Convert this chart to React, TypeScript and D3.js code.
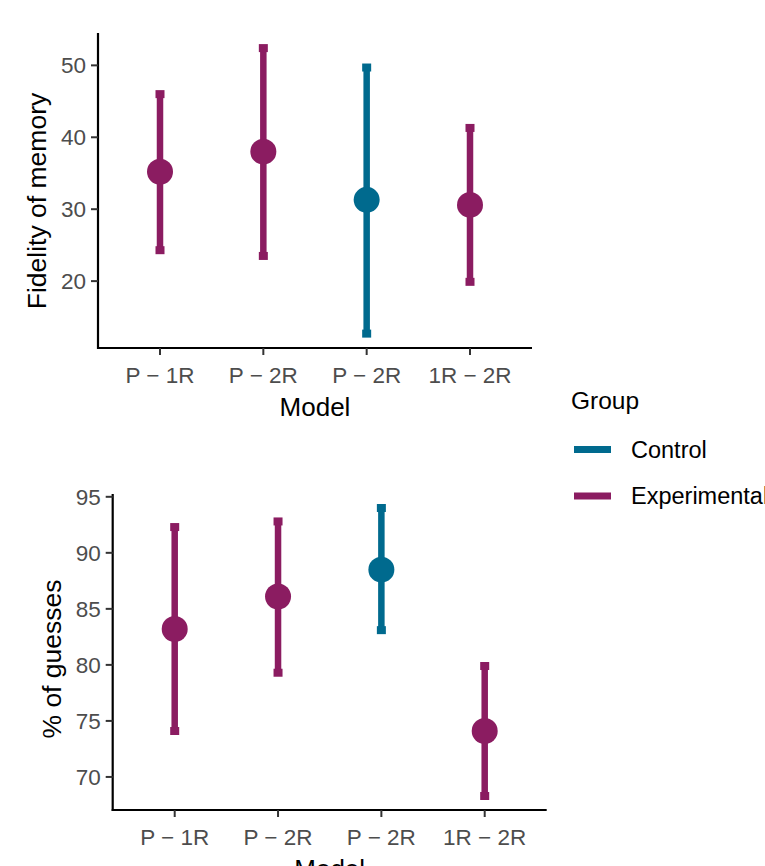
import React from "react";
import * as d3 from "d3";

const categories = ["P − 1R", "P − 2R", "P − 2R", "1R − 2R"];
const groups = ["Experimental", "Experimental", "Control", "Experimental"];
const fidelityMean = [35.2, 38.0, 31.3, 30.6];
const fidelityLow = [24.3, 23.5, 12.7, 19.9];
const fidelityHigh = [46.0, 52.4, 49.7, 41.3];
const guessMean = [83.2, 86.1, 88.5, 74.1];
const guessLow = [74.1, 79.3, 83.1, 68.3];
const guessHigh = [92.3, 92.8, 94.0, 79.9];
const fidelityTicks = [20, 30, 40, 50];
const guessTicks = [70, 75, 80, 85, 90, 95];
const legendGroups = ["Control", "Experimental"];

const colors: Record<string, string> = { Control: "#006A8E", Experimental: "#8B1C61" };
const FONT = "'Liberation Sans', Arial, sans-serif";

type PanelProps = {
  x0: number; x1: number; yTop: number; yBot: number;
  domain: [number, number]; ticks: number[];
  mean: number[]; low: number[]; high: number[];
  yTitle: string; yTitleX: number; yTitleY: number;
};

function Panel(p: PanelProps) {
  const idx = categories.map((_, i) => String(i));
  const x = d3.scalePoint<string>().domain(idx).range([p.x0, p.x1]).padding(0.6);
  const y = d3.scaleLinear().domain(p.domain).range([p.yBot, p.yTop]);
  return (
    <g>
      {idx.map((k, i) => {
        const c = colors[groups[i]];
        const cx = x(k)!;
        return (
          <g key={k}>
            <line x1={cx} x2={cx} y1={y(p.low[i])} y2={y(p.high[i])} stroke={c} strokeWidth={6.5} />
            <rect x={cx - 4.5} y={y(p.high[i]) - 4} width={9} height={8} fill={c} />
            <rect x={cx - 4.5} y={y(p.low[i]) - 4} width={9} height={8} fill={c} />
            <circle cx={cx} cy={y(p.mean[i])} r={13} fill={c} />
          </g>
        );
      })}
      <line x1={p.x0} x2={p.x0} y1={p.yTop} y2={p.yBot + 1} stroke="#000" strokeWidth={2.2} />
      <line x1={p.x0 - 1} x2={p.x1} y1={p.yBot} y2={p.yBot} stroke="#000" strokeWidth={2.2} />
      {p.ticks.map((t) => (
        <g key={t}>
          <line x1={p.x0 - 7} x2={p.x0} y1={y(t)} y2={y(t)} stroke="#333" strokeWidth={2} />
          <text x={p.x0 - 12} y={y(t)} dy="0.36em" textAnchor="end" fontSize={22.5} fill="#4D4D4D" fontFamily={FONT}>{t}</text>
        </g>
      ))}
      {idx.map((k, i) => (
        <g key={k}>
          <line x1={x(k)!} x2={x(k)!} y1={p.yBot} y2={p.yBot + 7} stroke="#333" strokeWidth={2} />
          <text x={x(k)!} y={p.yBot + 35} textAnchor="middle" fontSize={22.5} fill="#4D4D4D" fontFamily={FONT}>{categories[i]}</text>
        </g>
      ))}
      <text x={(p.x0 + p.x1) / 2} y={p.yBot + 68} textAnchor="middle" fontSize={26} fill="#000" fontFamily={FONT}>Model</text>
      <text transform={`translate(${p.yTitleX},${p.yTitleY}) rotate(-90)`} textAnchor="middle" fontSize={26.5} fill="#000" fontFamily={FONT}>{p.yTitle}</text>
    </g>
  );
}

export default function App() {
  return (
    <svg width={765} height={866} style={{ position: "absolute", left: 0, top: 0, background: "#fff" }}>
      <rect width={765} height={866} fill="#fff" />
      <Panel x0={98} x1={532} yTop={33} yBot={348} domain={[10.7, 54.5]} ticks={fidelityTicks}
        mean={fidelityMean} low={fidelityLow} high={fidelityHigh}
        yTitle="Fidelity of memory" yTitleX={46} yTitleY={201} />
      <Panel x0={112.7} x1={546.7} yTop={494} yBot={810} domain={[67.05, 95.25]} ticks={guessTicks}
        mean={guessMean} low={guessLow} high={guessHigh}
        yTitle="% of guesses" yTitleX={61} yTitleY={659} />
      <g>
        <text x={571} y={409} fontSize={24.5} fill="#000" fontFamily={FONT}>Group</text>
        {legendGroups.map((g, i) => (
          <g key={g}>
            <line x1={574} x2={611} y1={449.5 + i * 46.5} y2={449.5 + i * 46.5} stroke={colors[g]} strokeWidth={7} />
            <text x={631} y={449.5 + i * 46.5} dy="0.36em" fontSize={23.5} fill="#000" fontFamily={FONT}>{g}</text>
          </g>
        ))}
      </g>
    </svg>
  );
}
